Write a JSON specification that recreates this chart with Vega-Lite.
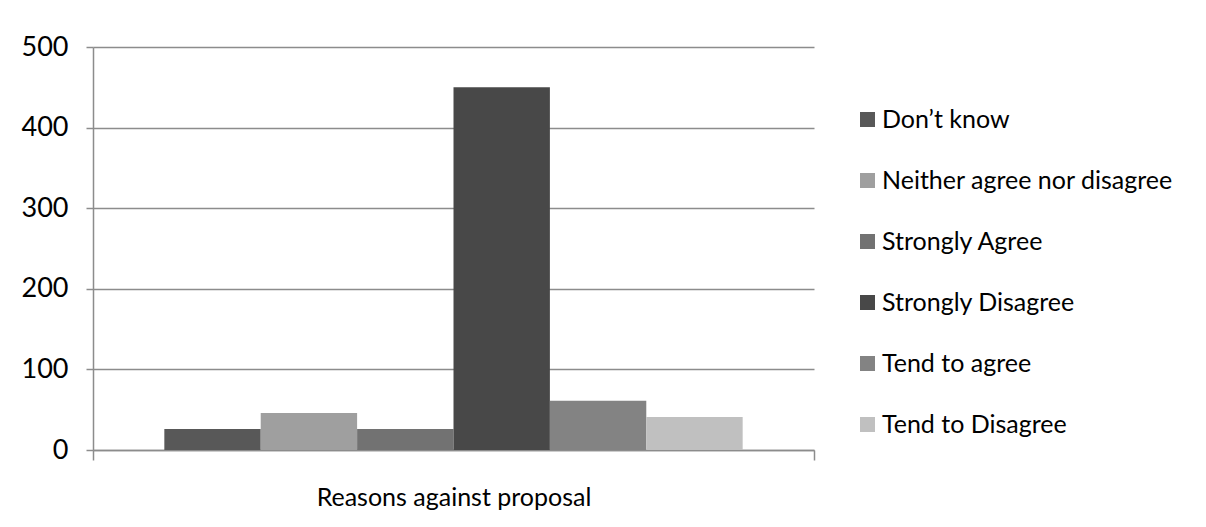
{
  "$schema": "https://vega.github.io/schema/vega-lite/v6.json",
  "autosize": {"type": "none"},
  "width": 721,
  "height": 403,
  "padding": {"left": 93, "top": 47, "right": 392, "bottom": 77},
  "background": "white",
  "data": {
    "values": [
      {"group": "Reasons against proposal", "response": "Don’t know", "count": 26},
      {"group": "Reasons against proposal", "response": "Neither agree nor disagree", "count": 46},
      {"group": "Reasons against proposal", "response": "Strongly Agree", "count": 26},
      {"group": "Reasons against proposal", "response": "Strongly Disagree", "count": 450},
      {"group": "Reasons against proposal", "response": "Tend to agree", "count": 61},
      {"group": "Reasons against proposal", "response": "Tend to Disagree", "count": 41}
    ]
  },
  "mark": {"type": "bar"},
  "encoding": {
    "x": {
      "field": "group",
      "type": "nominal",
      "scale": {"paddingInner": 0, "paddingOuter": 0},
      "axis": {
        "title": null,
        "labelAngle": 0,
        "labelLimit": 600,
        "tickBand": "extent",
        "tickSize": 10,
        "tickColor": "#8c8c8c",
        "domainColor": "#8c8c8c",
        "domainWidth": 1.5,
        "tickWidth": 1.5,
        "labelPadding": 25,
        "labelFont": "Lato",
        "labelFontSize": 25,
        "labelColor": "#000000"
      }
    },
    "xOffset": {
      "field": "response",
      "type": "nominal",
      "sort": ["Don’t know", "Neither agree nor disagree", "Strongly Agree", "Strongly Disagree", "Tend to agree", "Tend to Disagree"],
      "scale": {"paddingInner": 0, "paddingOuter": 0.74}
    },
    "y": {
      "field": "count",
      "type": "quantitative",
      "scale": {"domain": [0, 500], "nice": false},
      "axis": {
        "title": null,
        "values": [0, 100, 200, 300, 400, 500],
        "grid": true,
        "gridColor": "#8c8c8c",
        "gridWidth": 1.5,
        "tickSize": 7,
        "tickColor": "#8c8c8c",
        "tickWidth": 1.5,
        "domainColor": "#8c8c8c",
        "domainWidth": 1.5,
        "labelPadding": 18,
        "labelFont": "Lato",
        "labelFontSize": 27,
        "labelColor": "#000000"
      }
    },
    "color": {
      "field": "response",
      "type": "nominal",
      "scale": {
        "domain": ["Don’t know", "Neither agree nor disagree", "Strongly Agree", "Strongly Disagree", "Tend to agree", "Tend to Disagree"],
        "range": ["#585858", "#9f9f9f", "#727272", "#484848", "#838383", "#c0c0c0"]
      },
      "legend": {
        "title": null,
        "orient": "none",
        "legendX": 762,
        "legendY": 60,
        "symbolType": "square",
        "symbolSize": 225,
        "symbolStrokeWidth": 0,
        "labelFont": "Lato",
        "labelFontSize": 25,
        "labelColor": "#000000",
        "labelOffset": 2,
        "rowPadding": 35,
        "labelLimit": 400
      }
    }
  },
  "config": {
    "view": {"stroke": null},
    "axis": {"labelFontWeight": "normal"}
  }
}
